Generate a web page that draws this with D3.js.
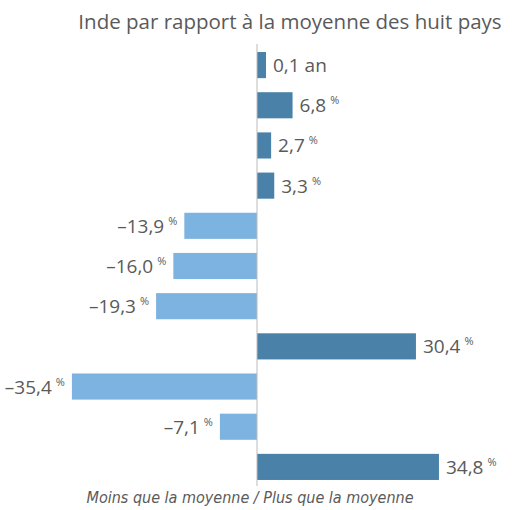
<!DOCTYPE html>
<html>
<head>
<meta charset="utf-8">
<script src="https://cdn.jsdelivr.net/npm/d3@7"></script>
<style>
  body { margin: 0; background: #fff; }
  text { font-family: "Open Sans", "Noto Sans", sans-serif; fill: #5a5a5a; }
</style>
</head>
<body>
<div class="vis"></div>
<script>
// one row per item, top to bottom
var rows = ["r1", "r2", "r3", "r4", "r5", "r6", "r7", "r8", "r9", "r10", "r11"];
var values = [0.1, 6.8, 2.7, 3.3, -13.9, -16.0, -19.3, 30.4, -35.4, -7.1, 34.8];
var units = ["an", "%", "%", "%", "%", "%", "%", "%", "%", "%", "%"];
var title = "Inde par rapport à la moyenne des huit pays";
var caption = "Moins que la moyenne / Plus que la moyenne";

var width = 516, height = 510;

var chart = {

  setUp: function(){
    chart.svg = d3.select(".vis")
      .append("svg")
        .attr("width", width)
        .attr("height", height);

    chart.x = d3.scaleLinear().domain([0, 35]).range([257, 440]);
    chart.y = d3.scaleBand().domain(rows).range([46, 486]).paddingInner(0.35).paddingOuter(0.15);

    chart.drawBars();
    chart.drawText();
  },

  drawBars: function(){
    var x = chart.x, y = chart.y;
    var minW = 9; // tiny values still get a visible bar

    chart.svg.selectAll("rect.bar")
      .data(values)
      .enter()
      .append("rect")
        .attr("class", "bar")
        .attr("x", function(d){ return d < 0 ? x(d) : x(0); })
        .attr("y", function(d, i){ return y(rows[i]); })
        .attr("width", function(d){ return Math.max(minW, Math.abs(x(d) - x(0))); })
        .attr("height", y.bandwidth())
        .attr("fill", function(d){ return d < 0 ? "#7cb3e1" : "#4a81a8"; });

    chart.svg.append("line")
      .attr("x1", x(0)).attr("x2", x(0))
      .attr("y1", 44).attr("y2", 486)
      .attr("stroke", "#bbb")
      .attr("stroke-width", 1);

    chart.minW = minW;
  },

  drawText: function(){
    var x = chart.x, y = chart.y;
    var fmt = function(d){ return (d < 0 ? "\u2013" : "") + Math.abs(d).toFixed(1).replace(".", ","); };

    var labels = chart.svg.selectAll("text.val")
      .data(values)
      .enter()
      .append("text")
        .attr("class", "val")
        .attr("y", function(d, i){ return y(rows[i]) + y.bandwidth() / 2 + 7; })
        .attr("font-size", 19);

    labels.each(function(d, i){
      var t = d3.select(this);
      var end = d < 0 ? x(d) : Math.max(x(0) + chart.minW, x(d));
      if (units[i] === "an") {
        t.text(fmt(d) + " " + units[i]);
      } else {
        t.append("tspan").text(fmt(d));
        t.append("tspan")
          .attr("font-size", 11)
          .attr("dx", 4)
          .attr("dy", -8)
          .text(units[i]);
      }
      if (d < 0) {
        t.attr("text-anchor", "end").attr("x", end - 7);
      } else {
        t.attr("x", end + 7);
      }
    });

    chart.svg.append("text")
      .attr("x", 290)
      .attr("y", 29)
      .attr("text-anchor", "middle")
      .attr("font-size", 20.5)
      .text(title);

    chart.svg.append("text")
      .attr("x", 250)
      .attr("y", 503)
      .attr("text-anchor", "middle")
      .attr("font-size", 16)
      .attr("font-style", "italic")
      .style("font-family", "'Liberation Sans Narrow', 'DejaVu Sans Condensed', sans-serif")
      .style("font-stretch", "condensed")
      .text(caption);
  }
};

chart.setUp();
</script>
</body>
</html>
